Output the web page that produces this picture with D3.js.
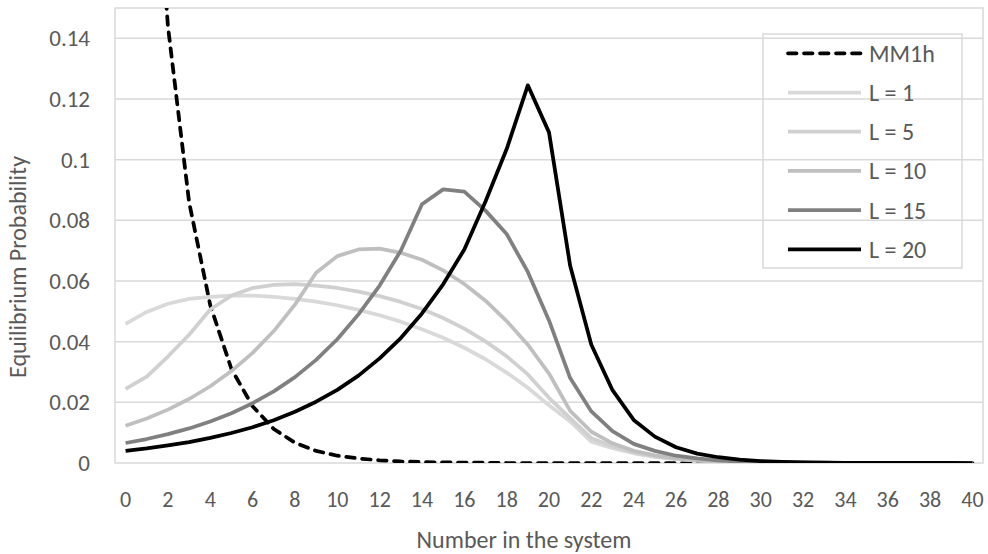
<!DOCTYPE html>
<html>
<head>
<meta charset="utf-8">
<script src="https://cdn.jsdelivr.net/npm/d3@7"></script>
<style>
  body { margin: 0; background: #fff; }
  #chart text { font-family: Calibri, Carlito, Lato, sans-serif; fill: #595959; }
</style>
</head>
<body>
<div id="chart"></div>
<script>
// equilibrium probability vs number in the system

const CATEGORIES = [0, 1, 2, 3, 4, 5, 6, 7, 8, 9, 10, 11, 12, 13, 14, 15, 16, 17, 18, 19, 20,
  21, 22, 23, 24, 25, 26, 27, 28, 29, 30, 31, 32, 33, 34, 35, 36, 37, 38, 39, 40];

const MM1H = [0.400, 0.240, 0.144, 0.086, 0.052, 0.031, 0.0187, 0.0112, 0.0067, 0.0040, 0.0024,
  0.0015, 0.0009, 0.0005, 0.0003, 0.0002, 0.0001, 0.0001, 0, 0, 0,
  0, 0, 0, 0, 0, 0, 0, 0, 0, 0, 0, 0, 0, 0, 0, 0, 0, 0, 0, 0];

const L1 = [0.0459, 0.0498, 0.0525, 0.0541, 0.0548, 0.0552, 0.0552, 0.0548, 0.0541, 0.0532, 0.0520,
  0.0505, 0.0487, 0.0466, 0.0441, 0.0413, 0.0380, 0.0342, 0.0298, 0.0248, 0.0190,
  0.0137, 0.0070, 0.0049, 0.0032, 0.0020, 0.0013, 0.0008, 0.0005, 0.0003, 0.0002,
  0.0001, 0.0001, 0, 0, 0, 0, 0, 0, 0, 0];

const L5 = [0.0244, 0.0285, 0.0351, 0.0423, 0.0506, 0.0552, 0.0577, 0.0587, 0.0590, 0.0585, 0.0577,
  0.0565, 0.0550, 0.0531, 0.0508, 0.0478, 0.0443, 0.0401, 0.0352, 0.0292, 0.0215,
  0.0148, 0.0082, 0.0055, 0.0035, 0.0022, 0.0014, 0.0009, 0.0005, 0.0003, 0.0002,
  0.0001, 0.0001, 0, 0, 0, 0, 0, 0, 0, 0];

const L10 = [0.0123, 0.0147, 0.0176, 0.0211, 0.0253, 0.0303, 0.0363, 0.0435, 0.0522, 0.0627, 0.0682,
  0.0704, 0.0707, 0.0693, 0.0670, 0.0635, 0.0590, 0.0535, 0.0468, 0.0390, 0.0295,
  0.0172, 0.0103, 0.0065, 0.0040, 0.0025, 0.0015, 0.0009, 0.0006, 0.0004, 0.0002,
  0.0001, 0.0001, 0, 0, 0, 0, 0, 0, 0, 0];

const L15 = [0.0066, 0.0079, 0.0095, 0.0114, 0.0137, 0.0164, 0.0197, 0.0236, 0.0283, 0.0340, 0.0408,
  0.0490, 0.0585, 0.0700, 0.0853, 0.0902, 0.0895, 0.0832, 0.0755, 0.0630, 0.0470,
  0.0280, 0.0170, 0.0105, 0.0063, 0.0040, 0.0024, 0.0015, 0.0009, 0.0005, 0.0003,
  0.0002, 0.0001, 0.0001, 0, 0, 0, 0, 0, 0, 0];

const L20 = [0.0040, 0.0048, 0.0058, 0.0069, 0.0083, 0.0099, 0.0118, 0.0141, 0.0169, 0.0202, 0.0241,
  0.0288, 0.0345, 0.0412, 0.0493, 0.0589, 0.0704, 0.0862, 0.1035, 0.1245, 0.1090,
  0.0650, 0.0390, 0.0240, 0.0142, 0.0087, 0.0052, 0.0031, 0.0019, 0.0011, 0.00065,
  0.0004, 0.00024, 0.00014, 0.00008, 0.00005, 0.00003, 0.00002, 0.00001, 0.00001, 0];

const SERIES_NAMES = ["MM1h", "L = 1", "L = 5", "L = 10", "L = 15", "L = 20"];
const SERIES_COLORS = ["#000000", "#d9d9d9", "#d0d0d0", "#bfbfbf", "#808080", "#000000"];
const Y_TICKS = [0, 0.02, 0.04, 0.06, 0.08, 0.1, 0.12, 0.14];
const X_TICKS = [0, 2, 4, 6, 8, 10, 12, 14, 16, 18, 20, 22, 24, 26, 28, 30, 32, 34, 36, 38, 40];

const seriesValues = [MM1H, L1, L5, L10, L15, L20];

const W = 988, H = 554;
const plot = { left: 115, right: 983, top: 8, bottom: 463 };
const DASH = '8.5,7.5';

const svg = d3.select('#chart')
    .append('svg')
    .attr('width', W)
    .attr('height', H);

const x = d3.scaleBand()
    .domain(CATEGORIES)
    .range([plot.left, plot.right]);

const y = d3.scaleLinear()
    .domain([0, 0.15])
    .range([plot.bottom, plot.top]);

const cx = d => x(d) + x.bandwidth() / 2;

// gridlines
svg.append('g')
    .selectAll('line')
    .data(Y_TICKS.slice(1))
    .enter()
    .append('line')
    .attr('x1', plot.left)
    .attr('x2', plot.right)
    .attr('y1', d => y(d))
    .attr('y2', d => y(d))
    .style('stroke', '#d9d9d9')
    .style('stroke-width', 1.5);

// plot area border
svg.append('rect')
    .attr('x', plot.left)
    .attr('y', plot.top)
    .attr('width', plot.right - plot.left)
    .attr('height', plot.bottom - plot.top)
    .style('fill', 'none')
    .style('stroke', '#d9d9d9')
    .style('stroke-width', 1.5);

// axes
const yAxis = svg.append('g')
    .attr('transform', `translate(${plot.left},0)`)
    .call(d3.axisLeft(y)
        .tickValues(Y_TICKS)
        .tickSize(0)
        .tickPadding(25)
        .tickFormat(d => String(+d.toFixed(2))));
yAxis.select('.domain').remove();
yAxis.selectAll('text').style('font-size', '23px');

const xAxis = svg.append('g')
    .attr('transform', `translate(0,${plot.bottom})`)
    .call(d3.axisBottom(x)
        .tickValues(X_TICKS)
        .tickSize(0));
xAxis.select('.domain').remove();
xAxis.selectAll('text')
    .attr('y', 36)
    .attr('dy', '0.35em')
    .style('font-size', '22px');

// axis titles
svg.append('text')
    .attr('transform', 'rotate(-90)')
    .attr('x', -267)
    .attr('y', 26)
    .attr('text-anchor', 'middle')
    .style('font-size', '24px')
    .text('Equilibrium Probability');

svg.append('text')
    .attr('x', 524)
    .attr('y', 548)
    .attr('text-anchor', 'middle')
    .style('font-size', '24px')
    .text('Number in the system');

// lines
svg.append('defs')
    .append('clipPath')
    .attr('id', 'plot-clip')
    .append('rect')
    .attr('x', plot.left)
    .attr('y', plot.top)
    .attr('width', plot.right - plot.left)
    .attr('height', plot.bottom - plot.top);

const line = d3.line()
    .x((d, i) => cx(CATEGORIES[i]))
    .y(d => y(d));

const lines = svg.append('g').attr('clip-path', 'url(#plot-clip)');

seriesValues.forEach((vals, s) => {
    lines.append('path')
        .datum(vals)
        .attr('d', line)
        .style('fill', 'none')
        .style('stroke', SERIES_COLORS[s])
        .style('stroke-width', 3.75)
        .style('stroke-linejoin', 'round')
        .style('stroke-linecap', s === 0 ? 'round' : 'butt')
        .style('stroke-dasharray', s === 0 ? DASH : null);
});

// legend
const legend = svg.append('g');

legend.append('rect')
    .attr('x', 763)
    .attr('y', 34)
    .attr('width', 199)
    .attr('height', 234)
    .style('fill', 'none')
    .style('stroke', '#d9d9d9')
    .style('stroke-width', 1.5);

const legendItems = legend.selectAll('g')
    .data(SERIES_NAMES)
    .enter()
    .append('g')
    .attr('transform', (d, i) => `translate(0, ${53.3 + i * 39.2})`);

legendItems.append('line')
    .attr('x1', 788)
    .attr('x2', 861)
    .style('stroke', (d, i) => SERIES_COLORS[i])
    .style('stroke-width', 3.75)
    .style('stroke-linecap', (d, i) => i === 0 ? 'round' : 'butt')
    .style('stroke-dasharray', (d, i) => i === 0 ? DASH : null);

legendItems.append('text')
    .attr('x', 869)
    .attr('dy', '0.35em')
    .style('font-size', '24px')
    .text(d => d);
</script>
</body>
</html>
